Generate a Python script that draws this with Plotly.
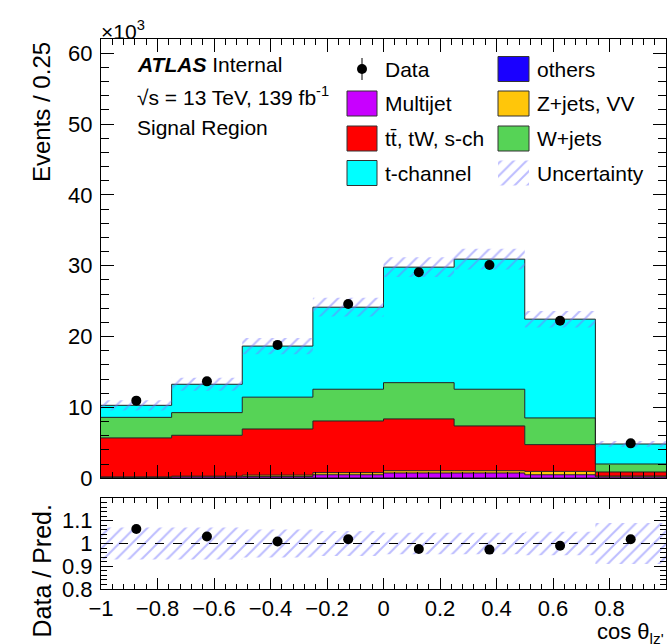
import numpy as np
import plotly.graph_objects as go

# ---------------- data (events in units of 10^3) ----------------
bin_edges = [-1.0, -0.75, -0.5, -0.25, 0.0, 0.25, 0.5, 0.75, 1.0]
others = [0.03, 0.03, 0.04, 0.05, 0.05, 0.05, 0.04, 0.03]
multijet = [0.07, 0.17, 0.20, 0.45, 0.70, 0.70, 0.46, 0.17]
zjets_vv = [0.10, 0.10, 0.21, 0.30, 0.32, 0.32, 0.48, 0.12]
ttbar_tw_sch = [5.50, 5.77, 6.51, 7.29, 7.31, 6.32, 3.77, 0.57]
wjets = [2.90, 3.20, 4.49, 4.48, 5.12, 5.18, 3.77, 1.13]
tchannel = [1.70, 4.00, 7.21, 11.58, 16.30, 18.36, 13.94, 2.82]
data_k = [10.96, 13.68, 18.83, 24.61, 29.08, 30.10, 22.24, 4.93]
rel_unc = [0.07, 0.07, 0.062, 0.055, 0.047, 0.047, 0.052, 0.09]

y_main_ticks = [0, 10, 20, 30, 40, 50, 60]
y_ratio_ticks = [0.8, 0.9, 1.0, 1.1]
y_ratio_text = ["0.8", "0.9", "1", "1.1"]

samples = [
    ("others", others, "#1a00ff"),
    ("Multijet", multijet, "#c800ff"),
    ("Z+jets, VV", zjets_vv, "#ffc60a"),
    ("tt̄, tW, s-ch", ttbar_tw_sch, "#ff0000"),
    ("W+jets", wjets, "#56d356"),
    ("t-channel", tchannel, "#00ffff"),
]

# ---------------- geometry helpers (pixels) ----------------
W, H = 670, 644
L, R, T, B = 101, 666, 39, 589
FONT = "Liberation Sans, Arial, Helvetica, sans-serif"
HATCH = "#7a7aff"
PATTERN = dict(shape="/", fgcolor=HATCH, bgcolor="rgba(0,0,0,0)", size=9, solidity=0.22,
               fillmode="overlay")

edges = np.array(bin_edges)
centers = 0.5 * (edges[:-1] + edges[1:])


def step(v):
    v = list(v)
    return v + [v[-1]]


fig = go.Figure()

# ---------------- stacked histogram ----------------
cum = np.zeros(len(centers))
fig.add_trace(go.Scatter(x=edges, y=step(cum), mode="lines", line=dict(width=0, shape="hv"),
                         showlegend=False, hoverinfo="skip", xaxis="x", yaxis="y"))
for name, vals, col in samples:
    cum = cum + np.array(vals)
    fig.add_trace(go.Scatter(x=edges, y=step(cum), mode="lines",
                             line=dict(color="#222222", width=1, shape="hv"),
                             fill="tonexty", fillcolor=col, name=name, showlegend=False,
                             xaxis="x", yaxis="y"))
total = cum.copy()
unc = total * np.array(rel_unc)

# uncertainty band (main)
fig.add_trace(go.Scatter(x=edges, y=step(total - unc), mode="lines", line=dict(width=0, shape="hv"),
                         showlegend=False, hoverinfo="skip", xaxis="x", yaxis="y"))
fig.add_trace(go.Scatter(x=edges, y=step(total + unc), mode="lines", line=dict(width=0, shape="hv"),
                         fill="tonexty", fillcolor="rgba(0,0,0,0)", fillpattern=PATTERN,
                         showlegend=False, xaxis="x", yaxis="y"))

# data
data_arr = np.array(data_k)
data_err = np.sqrt(data_arr * 1000.0) / 1000.0
fig.add_trace(go.Scatter(x=centers, y=data_arr, mode="markers",
                         marker=dict(color="black", size=10),
                         error_y=dict(type="data", array=data_err, color="black", thickness=1, width=0),
                         showlegend=False, xaxis="x", yaxis="y"))

# ---------------- ratio panel ----------------
ratio = data_arr / total
ratio_err = data_err / total
fig.add_trace(go.Scatter(x=edges, y=step(1 - np.array(rel_unc)), mode="lines",
                         line=dict(width=0, shape="hv"), showlegend=False, hoverinfo="skip",
                         xaxis="x2", yaxis="y2"))
fig.add_trace(go.Scatter(x=edges, y=step(1 + np.array(rel_unc)), mode="lines",
                         line=dict(width=0, shape="hv"), fill="tonexty", fillcolor="rgba(0,0,0,0)",
                         fillpattern=PATTERN, showlegend=False, xaxis="x2", yaxis="y2"))
fig.add_trace(go.Scatter(x=[edges[0], edges[-1]], y=[1, 1], mode="lines",
                         line=dict(color="black", width=1, dash="dash"),
                         showlegend=False, hoverinfo="skip", xaxis="x2", yaxis="y2"))
fig.add_trace(go.Scatter(x=centers, y=ratio, mode="markers",
                         marker=dict(color="black", size=10),
                         error_y=dict(type="data", array=ratio_err, color="black", thickness=1, width=0),
                         showlegend=False, xaxis="x2", yaxis="y2"))

# ---------------- legend (drawn on a pixel overlay axis) ----------------
row_y = [69, 103.5, 138.5, 173]
col_box = [(347, 377), (498, 529)]
col_txt = [383, 535]
bh = 12.5
legend_items = [
    ("Data", None), ("others", "#1a00ff"),
    ("Multijet", "#c800ff"), ("Z+jets, VV", "#ffc60a"),
    ("tt̄, tW, s-ch", "#ff0000"), ("W+jets", "#56d356"),
    ("t-channel", "#00ffff"), ("Uncertainty", "hatch"),
]
shapes = []
annotations = []
for i, (lab, col) in enumerate(legend_items):
    r, c = divmod(i, 2)
    yc = row_y[r]
    x0, x1 = col_box[c]
    if col is None:
        xm = 0.5 * (x0 + x1)
        fig.add_trace(go.Scatter(x=[xm, xm], y=[yc - 11, yc + 11], mode="lines",
                                 line=dict(color="black", width=1), showlegend=False,
                                 hoverinfo="skip", xaxis="x3", yaxis="y3"))
        fig.add_trace(go.Scatter(x=[xm], y=[yc], mode="markers", marker=dict(color="black", size=10),
                                 showlegend=False, hoverinfo="skip", xaxis="x3", yaxis="y3"))
    elif col == "hatch":
        fig.add_trace(go.Scatter(x=[x0, x1, x1, x0, x0], y=[yc - bh, yc - bh, yc + bh, yc + bh, yc - bh],
                                 mode="lines", line=dict(width=0), fill="toself",
                                 fillcolor="rgba(0,0,0,0)", fillpattern=PATTERN,
                                 showlegend=False, hoverinfo="skip", xaxis="x3", yaxis="y3"))
    else:
        shapes.append(dict(type="rect", xref="x3", yref="y3", x0=x0, x1=x1, y0=yc - bh, y1=yc + bh,
                           fillcolor=col, line=dict(color="#333333", width=1)))
    annotations.append(dict(xref="x3", yref="y3", x=col_txt[c], y=yc, text=lab, showarrow=False,
                            xanchor="left", yanchor="middle", font=dict(size=21, color="black")))

# ATLAS label
annotations += [
    dict(xref="x3", yref="y3", x=135, y=64, text="<b><i>ATLAS</i></b> Internal", showarrow=False,
         xanchor="left", yanchor="middle", font=dict(size=21, color="black")),
    dict(xref="x3", yref="y3", x=135, y=96, text="√s = 13 TeV, 139 fb<sup>-1</sup>", showarrow=False,
         xanchor="left", yanchor="middle", font=dict(size=21, color="black")),
    dict(xref="x3", yref="y3", x=135, y=127, text="Signal Region", showarrow=False,
         xanchor="left", yanchor="middle", font=dict(size=21, color="black")),
]


def px(x):
    return (x - L) / (R - L)


def py(y):
    return (B - y) / (B - T)


annotations += [
    dict(xref="paper", yref="paper", x=px(99), y=py(30), text="×10<sup>3</sup>", showarrow=False,
         xanchor="left", yanchor="middle", font=dict(size=21, color="black")),
    dict(xref="paper", yref="paper", x=px(41), y=py(40), text="Events / 0.25", showarrow=False,
         textangle=-90, xanchor="center", yanchor="top", font=dict(size=24, color="black")),
    dict(xref="paper", yref="paper", x=px(41), y=py(503), text="Data / Pred.", showarrow=False,
         textangle=-90, xanchor="center", yanchor="top", font=dict(size=25, color="black")),
    dict(xref="paper", yref="paper", x=px(666), y=py(633), text="cos θ<sub>lz'</sub>", showarrow=False,
         xanchor="right", yanchor="middle", font=dict(size=22, color="black")),
]

main_bottom = (B - 478.3) / (B - T)
ratio_top = (B - 498) / (B - T)

common_x = dict(range=[edges[0], edges[-1]], ticks="inside", tickcolor="black", tick0=-1, dtick=0.2,
                showline=True, linecolor="black", linewidth=1, mirror="ticks", showgrid=False,
                zeroline=False, tickfont=dict(size=22, color="black"))

fig.update_layout(
    width=W, height=H,
    margin=dict(l=L, r=W - R, t=T, b=H - B, pad=0),
    paper_bgcolor="white", plot_bgcolor="rgba(0,0,0,0)",
    font=dict(family=FONT, color="black"),
    showlegend=False,
    xaxis=dict(common_x, domain=[0, 1], anchor="y", showticklabels=False, ticklen=13,
               minor=dict(ticks="inside", ticklen=6, dtick=0.04, tick0=-1, tickcolor="black")),
    yaxis=dict(domain=[main_bottom, 1], anchor="x", range=[0, 62.0], tickvals=y_main_ticks,
               ticks="inside", ticklen=13, tickcolor="black",
               minor=dict(ticks="inside", ticklen=8, dtick=2, tickcolor="black"),
               showline=True, linecolor="black", linewidth=1, mirror="ticks", showgrid=False,
               zeroline=False, tickfont=dict(size=22, color="black"), ticklabelstandoff=3),
    xaxis2=dict(common_x, domain=[0, 1], anchor="y2", showticklabels=True, ticklen=11,
                minor=dict(ticks="inside", ticklen=5, dtick=0.04, tick0=-1, tickcolor="black"),
                ticklabelstandoff=0),
    yaxis2=dict(domain=[0, ratio_top], anchor="x2", range=[0.8, 1.2], tickvals=y_ratio_ticks,
                ticktext=y_ratio_text, ticks="inside", ticklen=12, tickcolor="black",
                minor=dict(ticks="inside", ticklen=6, dtick=0.02, tick0=0.8, tickcolor="black"),
                showline=True, linecolor="black", linewidth=1, mirror="ticks", showgrid=False,
                zeroline=False, tickfont=dict(size=22, color="black"), ticklabelstandoff=3),
    xaxis3=dict(domain=[0, 1], anchor="y3", range=[L, R], visible=False, fixedrange=True),
    yaxis3=dict(domain=[0, 1], anchor="x3", range=[B, T], visible=False, fixedrange=True),
    shapes=shapes,
    annotations=annotations,
)

fig.write_html("out.html", config={"displayModeBar": False},
               post_script="document.body.style.margin='0';document.body.style.padding='0';"
                           "document.body.style.overflow='hidden';")
